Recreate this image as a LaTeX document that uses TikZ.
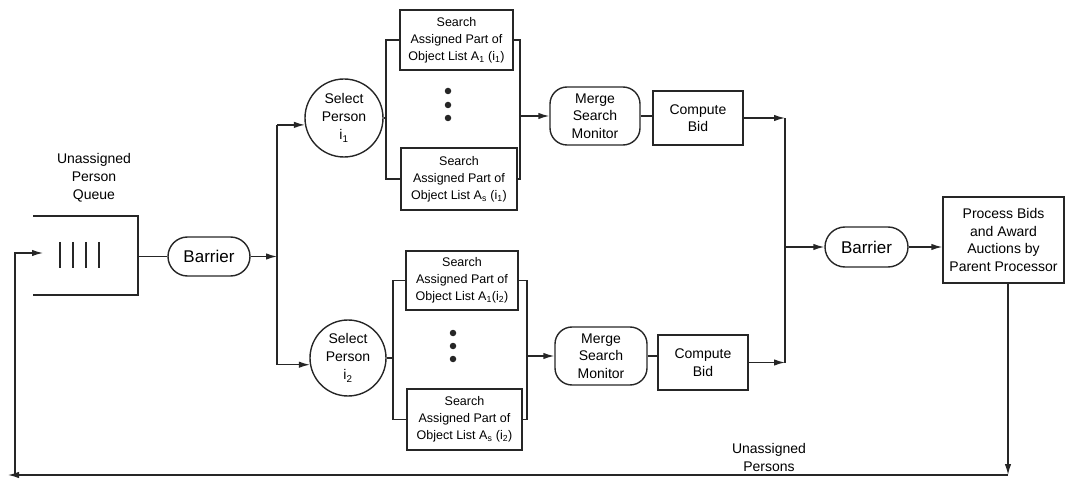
\documentclass[tikz,border=0pt]{standalone}
\usepackage{fontspec}
\setmainfont{Liberation Sans}
\usetikzlibrary{arrows.meta,shapes.misc,calc}
\begin{document}
\begin{tikzpicture}[x=1pt,y=-1pt,
  ln/.style={line width=1.4pt, draw=black!85},
  arr/.style={ln, -{Latex[length=11pt,width=6.5pt]}},
  sbox/.style={rectangle, ln, draw, inner sep=0pt, align=center, font=\fontsize{12.5}{17}\selectfont},
  pbox/.style={rectangle, ln, draw, inner sep=0pt, align=center, font=\fontsize{14}{17.5}\selectfont},
  rbox/.style={rectangle, rounded corners=17pt, ln, draw, inner sep=0pt, align=center, font=\fontsize{14}{17.5}\selectfont},
  pill/.style={rounded rectangle, ln, draw, inner sep=0pt, font=\fontsize{17}{20}\selectfont},
  sel/.style={circle, ln, draw, inner sep=0pt, align=center, font=\fontsize{14}{18}\selectfont},
  lbl/.style={align=center, inner sep=0pt, font=\fontsize{14}{18}\selectfont},
  dot/.style={circle, fill=black!85, inner sep=0pt, minimum size=6.5pt}]
\useasboundingbox (0,0) rectangle (1066,481);

% queue
\node[minimum width=105pt, minimum height=79pt, inner sep=0pt] (queue) at (85.5,255.5) {};
\draw[ln] (33,216) -- (138,216) -- (138,295) -- (33,295);
\foreach \x in {60,73,86,99} \draw[ln] (\x,242) -- (\x,268);
\node[lbl] (qlabel) at (94,178) {Unassigned\\Person\\Queue};

\node[pill, minimum width=82pt, minimum height=39pt] (bar1) at (209,256.5) {Barrier};
\coordinate (qout) at (138,256.5);
\coordinate (j1) at (277,256.5);
\draw[ln] (qout) -- (bar1.west);
\draw[arr] (bar1.east) -- (j1);

% select persons
\node[sel, minimum size=78pt] (sp1) at (344,118) {Select\\Person\\i\textsubscript{1}};
\node[sel, minimum size=76pt] (sp2) at (348,358) {Select\\Person\\i\textsubscript{2}};
\coordinate (vx) at (277,0);
\draw[ln] (sp1.190 -| vx) -- (sp2.190 -| vx);
\draw[arr] (sp1.190 -| vx) -- (sp1.190);
\draw[arr] (sp2.190 -| vx) -- (sp2.190);

% search boxes
\node[sbox, minimum width=113pt, minimum height=60pt] (b11) at (456.5,40) {Search\\Assigned Part of\\Object List A\textsubscript{1} (i\textsubscript{1})};
\node[sbox, minimum width=116pt, minimum height=62pt] (b1s) at (459,179) {Search\\Assigned Part of\\Object List A\textsubscript{s} (i\textsubscript{1})};
\node[sbox, minimum width=112pt, minimum height=59pt] (b21) at (462,280.5) {Search\\Assigned Part of\\Object List A\textsubscript{1}(i\textsubscript{2})};
\node[sbox, minimum width=115pt, minimum height=61pt] (b2s) at (464.5,419.5) {Search\\Assigned Part of\\Object List A\textsubscript{s} (i\textsubscript{2})};

\foreach \y [count=\i] in {91,105,118} \node[dot] (d1\i) at (448,\y) {};
\foreach \y [count=\i] in {333,346,359} \node[dot] (d2\i) at (453,\y) {};

% merge / compute
\node[rbox, minimum width=90pt, minimum height=58pt] (m1) at (595,116) {Merge\\Search\\Monitor};
\node[pbox, minimum width=90pt, minimum height=54pt] (c1) at (698,118) {Compute\\Bid};
\node[rbox, minimum width=92pt, minimum height=58pt] (m2) at (601,356) {Merge\\Search\\Monitor};
\node[pbox, minimum width=90pt, minimum height=55pt] (c2) at (703,362.5) {Compute\\Bid};

% upper branch wiring
\coordinate (l1) at (386,0);
\coordinate (r1) at (520,0);
\draw[ln] (sp1.east) -- (sp1.east -| l1);
\draw[ln] (b11.west) -- (b11.west -| l1) -- (b1s.west -| l1) -- (b1s.west);
\draw[ln] (b11.east) -- (b11.east -| r1) -- (b1s.east -| r1) -- (b1s.east);
\draw[arr] (m1.west -| r1) -- (m1.west);
\draw[ln] (m1.east) -- (m1.east -| c1.west);

% lower branch wiring
\coordinate (l2) at (393,0);
\coordinate (r2) at (527,0);
\draw[ln] (sp2.east) -- (sp2.east -| l2);
\draw[ln] (b21.west) -- (b21.west -| l2) -- (b2s.west -| l2) -- (b2s.west);
\draw[ln] (b21.east) -- (b21.east -| r2) -- (b2s.east -| r2) -- (b2s.east);
\draw[arr] (m2.west -| r2) -- (m2.west);
\draw[ln] (m2.east) -- (m2.east -| c2.west);

% join
\coordinate (rx) at (785,0);
\draw[arr] (c1.east) -- (c1.east -| rx);
\draw[arr] (c2.east) -- (c2.east -| rx);
\draw[ln] (c1.east -| rx) -- (c2.east -| rx);

\node[pill, minimum width=83pt, minimum height=40pt] (bar2) at (866.5,247) {Barrier};
\node[pbox, minimum width=121pt, minimum height=86pt, font=\fontsize{14}{17.7}\selectfont] (proc) at (1003.5,240) {Process Bids\\and Award\\Auctions by\\Parent Processor};
\draw[arr] (bar2.west -| rx) -- (bar2.west);
\draw[arr] (bar2.east) -- (bar2.east -| proc.west);

% feedback
\coordinate (br) at (1008,475);
\coordinate (bl) at (8,475);
\coordinate (lc) at (15,475);
\coordinate (qin) at (43,253);
\draw[arr] (proc.south -| br) -- (br);
\draw[arr] (br) -- (bl);
\draw[arr] (lc) |- (qin);
\node[lbl] (ulabel) at (769,457) {Unassigned\\Persons};
\end{tikzpicture}
\end{document}
